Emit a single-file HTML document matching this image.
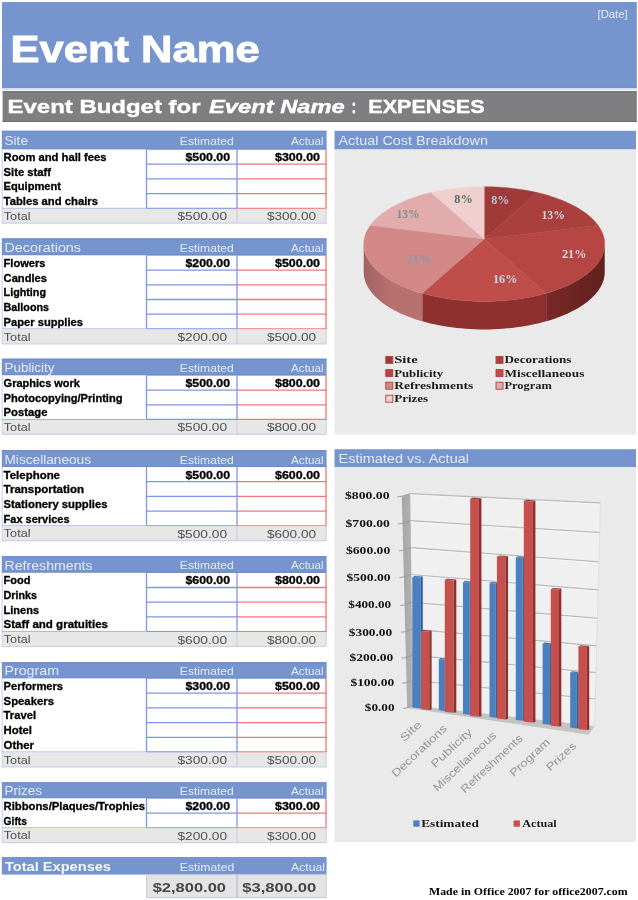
<!DOCTYPE html>
<html lang="en"><head><meta charset="utf-8"><title>Event Budget</title>
<style>html,body{margin:0;padding:0;background:#fff;}body{width:638px;height:900px;overflow:hidden;font-family:"Liberation Sans",sans-serif;}svg{display:block;filter:blur(0.45px);}text{white-space:pre;}</style>
</head><body>
<svg width="638" height="900" viewBox="0 0 638 900">
<rect x="0" y="0" width="638" height="900" fill="#FFFFFF"/>
<g id="title">
<rect x="2" y="2" width="634.8" height="86.2" fill="#7694CE"/>
<rect x="2" y="87.2" width="634.8" height="1" fill="#6E8EC9"/>
<rect x="2" y="88.6" width="634.8" height="1.8" fill="#DCE5F6"/>
<rect x="2.6" y="91.3" width="634.2" height="30.7" fill="#7F7E80"/>
<rect x="2.6" y="91.3" width="634.2" height="1" fill="#6C6B6D"/>
<rect x="2.6" y="121" width="634.2" height="1" fill="#6C6B6D"/>
<text x="10.6" y="62" textLength="249" lengthAdjust="spacingAndGlyphs" font-family='"Liberation Sans", sans-serif' font-size="37" font-weight="bold" font-style="normal" fill="#FFFFFF" stroke="#FFFFFF" stroke-width="0.9">Event Name</text>
<text x="597.5" y="18.2" textLength="30.2" lengthAdjust="spacingAndGlyphs" font-family='"Liberation Sans", sans-serif' font-size="10.5" font-weight="normal" font-style="normal" fill="#E6ECF8">[Date]</text>
<text x="7.5" y="113" textLength="193" lengthAdjust="spacingAndGlyphs" font-family='"Liberation Sans", sans-serif' font-size="19" font-weight="bold" font-style="normal" fill="#FFFFFF" stroke="#FFFFFF" stroke-width="0.4">Event Budget for</text>
<text x="209" y="113" textLength="135.7" lengthAdjust="spacingAndGlyphs" font-family='"Liberation Sans", sans-serif' font-size="19" font-weight="bold" font-style="italic" fill="#FFFFFF" stroke="#FFFFFF" stroke-width="0.4">Event Name</text>
<text x="351.6" y="113" textLength="4.8" lengthAdjust="spacingAndGlyphs" font-family='"Liberation Sans", sans-serif' font-size="19" font-weight="bold" font-style="normal" fill="#FFFFFF" stroke="#FFFFFF" stroke-width="0.4">:</text>
<text x="368.3" y="113" textLength="116.3" lengthAdjust="spacingAndGlyphs" font-family='"Liberation Sans", sans-serif' font-size="19" font-weight="bold" font-style="normal" fill="#FFFFFF" stroke="#FFFFFF" stroke-width="0.4">EXPENSES</text>
</g>
<g id="sec-site">
<rect x="1.8" y="130.8" width="324.8" height="18.7" fill="#7694CE"/>
<rect x="1.8" y="130.8" width="324.8" height="1" fill="#6C8BC9"/>
<rect x="1.8" y="148.5" width="324.8" height="1" fill="#6C8BC9"/>
<text x="4.5" y="145.3" textLength="23.5" lengthAdjust="spacingAndGlyphs" font-family='"Liberation Sans", sans-serif' font-size="12.5" font-weight="normal" font-style="normal" fill="#E4EBF8">Site</text>
<text x="179.8" y="145" textLength="54" lengthAdjust="spacingAndGlyphs" font-family='"Liberation Sans", sans-serif' font-size="10.5" font-weight="normal" font-style="normal" fill="#E4EBF8">Estimated</text>
<text x="291" y="145" textLength="32.5" lengthAdjust="spacingAndGlyphs" font-family='"Liberation Sans", sans-serif' font-size="10.5" font-weight="normal" font-style="normal" fill="#E4EBF8">Actual</text>
<rect x="1.8" y="149.5" width="144.7" height="58.8" fill="#FFFFFF"/>
<line x1="2.2" y1="149.5" x2="2.2" y2="208.3" stroke="#B9C7EA" stroke-width="0.9"/>
<text x="3.6" y="161" textLength="102.9" lengthAdjust="spacingAndGlyphs" font-family='"Liberation Sans", sans-serif' font-size="10.5" font-weight="bold" font-style="normal" fill="#000000" stroke="#000000" stroke-width="0.3">Room and hall fees</text>
<text x="185.5" y="161" textLength="44.5" lengthAdjust="spacingAndGlyphs" font-family='"Liberation Sans", sans-serif' font-size="10.5" font-weight="bold" font-style="normal" fill="#000000" stroke="#000000" stroke-width="0.3">$500.00</text>
<text x="275" y="161" textLength="45" lengthAdjust="spacingAndGlyphs" font-family='"Liberation Sans", sans-serif' font-size="10.5" font-weight="bold" font-style="normal" fill="#000000" stroke="#000000" stroke-width="0.3">$300.00</text>
<line x1="146.5" y1="164.2" x2="237" y2="164.2" stroke="#7B97E6" stroke-width="1.3"/>
<line x1="237" y1="164.2" x2="326.6" y2="164.2" stroke="#F07878" stroke-width="1.3"/>
<text x="3.6" y="175.7" textLength="47.4" lengthAdjust="spacingAndGlyphs" font-family='"Liberation Sans", sans-serif' font-size="10.5" font-weight="bold" font-style="normal" fill="#000000" stroke="#000000" stroke-width="0.3">Site staff</text>
<line x1="146.5" y1="178.9" x2="237" y2="178.9" stroke="#7B97E6" stroke-width="1.3"/>
<line x1="237" y1="178.9" x2="326.6" y2="178.9" stroke="#F07878" stroke-width="1.3"/>
<text x="3.6" y="190.4" textLength="57.4" lengthAdjust="spacingAndGlyphs" font-family='"Liberation Sans", sans-serif' font-size="10.5" font-weight="bold" font-style="normal" fill="#000000" stroke="#000000" stroke-width="0.3">Equipment</text>
<line x1="146.5" y1="193.6" x2="237" y2="193.6" stroke="#7B97E6" stroke-width="1.3"/>
<line x1="237" y1="193.6" x2="326.6" y2="193.6" stroke="#F07878" stroke-width="1.3"/>
<text x="3.6" y="205.1" textLength="94.4" lengthAdjust="spacingAndGlyphs" font-family='"Liberation Sans", sans-serif' font-size="10.5" font-weight="bold" font-style="normal" fill="#000000" stroke="#000000" stroke-width="0.3">Tables and chairs</text>
<line x1="146.5" y1="208.3" x2="237" y2="208.3" stroke="#7B97E6" stroke-width="1.3"/>
<line x1="237" y1="208.3" x2="326.6" y2="208.3" stroke="#F07878" stroke-width="1.3"/>
<line x1="146.5" y1="149.5" x2="146.5" y2="208.3" stroke="#7B97E6" stroke-width="1.3"/>
<line x1="237" y1="149.5" x2="237" y2="208.3" stroke="#7B97E6" stroke-width="1.3"/>
<line x1="326" y1="149.5" x2="326" y2="208.3" stroke="#F07878" stroke-width="1.3"/>
<line x1="1.8" y1="208.3" x2="146.5" y2="208.3" stroke="#9FB3E6" stroke-width="1"/>
<rect x="1.8" y="208.8" width="324.8" height="14.4" fill="#E7E7E7"/>
<line x1="1.8" y1="223.2" x2="326.6" y2="223.2" stroke="#C9D2EA" stroke-width="1.2"/>
<line x1="237" y1="208.8" x2="237" y2="223.2" stroke="#C3CBE0" stroke-width="1"/>
<line x1="2.2" y1="208.3" x2="2.2" y2="223.2" stroke="#C9D2EA" stroke-width="0.9"/>
<line x1="326.2" y1="208.8" x2="326.2" y2="223.2" stroke="#C9D2EA" stroke-width="0.9"/>
<text x="3.8" y="219.9" textLength="26.7" lengthAdjust="spacingAndGlyphs" font-family='"Liberation Sans", sans-serif' font-size="10.5" font-weight="normal" font-style="normal" fill="#505050">Total</text>
<text x="177.5" y="220.2" textLength="49.5" lengthAdjust="spacingAndGlyphs" font-family='"Liberation Sans", sans-serif' font-size="11.5" font-weight="normal" font-style="normal" fill="#505050">$500.00</text>
<text x="267" y="220.2" textLength="49" lengthAdjust="spacingAndGlyphs" font-family='"Liberation Sans", sans-serif' font-size="11.5" font-weight="normal" font-style="normal" fill="#505050">$300.00</text>
</g>
<g id="sec-decorations">
<rect x="1.8" y="238.4" width="324.8" height="17" fill="#7694CE"/>
<rect x="1.8" y="238.4" width="324.8" height="1" fill="#6C8BC9"/>
<rect x="1.8" y="254.4" width="324.8" height="1" fill="#6C8BC9"/>
<text x="4.5" y="252.2" textLength="76.5" lengthAdjust="spacingAndGlyphs" font-family='"Liberation Sans", sans-serif' font-size="12.5" font-weight="normal" font-style="normal" fill="#E4EBF8">Decorations</text>
<text x="179.8" y="251.9" textLength="54" lengthAdjust="spacingAndGlyphs" font-family='"Liberation Sans", sans-serif' font-size="10.5" font-weight="normal" font-style="normal" fill="#E4EBF8">Estimated</text>
<text x="291" y="251.9" textLength="32.5" lengthAdjust="spacingAndGlyphs" font-family='"Liberation Sans", sans-serif' font-size="10.5" font-weight="normal" font-style="normal" fill="#E4EBF8">Actual</text>
<rect x="1.8" y="255.4" width="144.7" height="73.5" fill="#FFFFFF"/>
<line x1="2.2" y1="255.4" x2="2.2" y2="328.9" stroke="#B9C7EA" stroke-width="0.9"/>
<text x="3.6" y="266.9" textLength="41.9" lengthAdjust="spacingAndGlyphs" font-family='"Liberation Sans", sans-serif' font-size="10.5" font-weight="bold" font-style="normal" fill="#000000" stroke="#000000" stroke-width="0.3">Flowers</text>
<text x="185.5" y="266.9" textLength="44.5" lengthAdjust="spacingAndGlyphs" font-family='"Liberation Sans", sans-serif' font-size="10.5" font-weight="bold" font-style="normal" fill="#000000" stroke="#000000" stroke-width="0.3">$200.00</text>
<text x="275" y="266.9" textLength="45" lengthAdjust="spacingAndGlyphs" font-family='"Liberation Sans", sans-serif' font-size="10.5" font-weight="bold" font-style="normal" fill="#000000" stroke="#000000" stroke-width="0.3">$500.00</text>
<line x1="146.5" y1="270.1" x2="237" y2="270.1" stroke="#7B97E6" stroke-width="1.3"/>
<line x1="237" y1="270.1" x2="326.6" y2="270.1" stroke="#F07878" stroke-width="1.3"/>
<text x="3.6" y="281.6" textLength="43.4" lengthAdjust="spacingAndGlyphs" font-family='"Liberation Sans", sans-serif' font-size="10.5" font-weight="bold" font-style="normal" fill="#000000" stroke="#000000" stroke-width="0.3">Candles</text>
<line x1="146.5" y1="284.8" x2="237" y2="284.8" stroke="#7B97E6" stroke-width="1.3"/>
<line x1="237" y1="284.8" x2="326.6" y2="284.8" stroke="#F07878" stroke-width="1.3"/>
<text x="3.6" y="296.3" textLength="42.4" lengthAdjust="spacingAndGlyphs" font-family='"Liberation Sans", sans-serif' font-size="10.5" font-weight="bold" font-style="normal" fill="#000000" stroke="#000000" stroke-width="0.3">Lighting</text>
<line x1="146.5" y1="299.5" x2="237" y2="299.5" stroke="#7B97E6" stroke-width="1.3"/>
<line x1="237" y1="299.5" x2="326.6" y2="299.5" stroke="#F07878" stroke-width="1.3"/>
<text x="3.6" y="311" textLength="45.4" lengthAdjust="spacingAndGlyphs" font-family='"Liberation Sans", sans-serif' font-size="10.5" font-weight="bold" font-style="normal" fill="#000000" stroke="#000000" stroke-width="0.3">Balloons</text>
<line x1="146.5" y1="314.2" x2="237" y2="314.2" stroke="#7B97E6" stroke-width="1.3"/>
<line x1="237" y1="314.2" x2="326.6" y2="314.2" stroke="#F07878" stroke-width="1.3"/>
<text x="3.6" y="325.7" textLength="79.4" lengthAdjust="spacingAndGlyphs" font-family='"Liberation Sans", sans-serif' font-size="10.5" font-weight="bold" font-style="normal" fill="#000000" stroke="#000000" stroke-width="0.3">Paper supplies</text>
<line x1="146.5" y1="328.9" x2="237" y2="328.9" stroke="#7B97E6" stroke-width="1.3"/>
<line x1="237" y1="328.9" x2="326.6" y2="328.9" stroke="#F07878" stroke-width="1.3"/>
<line x1="146.5" y1="255.4" x2="146.5" y2="328.9" stroke="#7B97E6" stroke-width="1.3"/>
<line x1="237" y1="255.4" x2="237" y2="328.9" stroke="#7B97E6" stroke-width="1.3"/>
<line x1="326" y1="255.4" x2="326" y2="328.9" stroke="#F07878" stroke-width="1.3"/>
<line x1="1.8" y1="328.9" x2="146.5" y2="328.9" stroke="#9FB3E6" stroke-width="1"/>
<rect x="1.8" y="329.4" width="324.8" height="14.4" fill="#E7E7E7"/>
<line x1="1.8" y1="343.8" x2="326.6" y2="343.8" stroke="#C9D2EA" stroke-width="1.2"/>
<line x1="237" y1="329.4" x2="237" y2="343.8" stroke="#C3CBE0" stroke-width="1"/>
<line x1="2.2" y1="328.9" x2="2.2" y2="343.8" stroke="#C9D2EA" stroke-width="0.9"/>
<line x1="326.2" y1="329.4" x2="326.2" y2="343.8" stroke="#C9D2EA" stroke-width="0.9"/>
<text x="3.8" y="340.5" textLength="26.7" lengthAdjust="spacingAndGlyphs" font-family='"Liberation Sans", sans-serif' font-size="10.5" font-weight="normal" font-style="normal" fill="#505050">Total</text>
<text x="177.5" y="340.8" textLength="49.5" lengthAdjust="spacingAndGlyphs" font-family='"Liberation Sans", sans-serif' font-size="11.5" font-weight="normal" font-style="normal" fill="#505050">$200.00</text>
<text x="267" y="340.8" textLength="49" lengthAdjust="spacingAndGlyphs" font-family='"Liberation Sans", sans-serif' font-size="11.5" font-weight="normal" font-style="normal" fill="#505050">$500.00</text>
</g>
<g id="sec-publicity">
<rect x="1.8" y="358.7" width="324.8" height="16.7" fill="#7694CE"/>
<rect x="1.8" y="358.7" width="324.8" height="1" fill="#6C8BC9"/>
<rect x="1.8" y="374.4" width="324.8" height="1" fill="#6C8BC9"/>
<text x="4.5" y="372.2" textLength="50" lengthAdjust="spacingAndGlyphs" font-family='"Liberation Sans", sans-serif' font-size="12.5" font-weight="normal" font-style="normal" fill="#E4EBF8">Publicity</text>
<text x="179.8" y="371.9" textLength="54" lengthAdjust="spacingAndGlyphs" font-family='"Liberation Sans", sans-serif' font-size="10.5" font-weight="normal" font-style="normal" fill="#E4EBF8">Estimated</text>
<text x="291" y="371.9" textLength="32.5" lengthAdjust="spacingAndGlyphs" font-family='"Liberation Sans", sans-serif' font-size="10.5" font-weight="normal" font-style="normal" fill="#E4EBF8">Actual</text>
<rect x="1.8" y="375.4" width="144.7" height="44.1" fill="#FFFFFF"/>
<line x1="2.2" y1="375.4" x2="2.2" y2="419.5" stroke="#B9C7EA" stroke-width="0.9"/>
<text x="3.6" y="386.9" textLength="76.4" lengthAdjust="spacingAndGlyphs" font-family='"Liberation Sans", sans-serif' font-size="10.5" font-weight="bold" font-style="normal" fill="#000000" stroke="#000000" stroke-width="0.3">Graphics work</text>
<text x="185.5" y="386.9" textLength="44.5" lengthAdjust="spacingAndGlyphs" font-family='"Liberation Sans", sans-serif' font-size="10.5" font-weight="bold" font-style="normal" fill="#000000" stroke="#000000" stroke-width="0.3">$500.00</text>
<text x="275" y="386.9" textLength="45" lengthAdjust="spacingAndGlyphs" font-family='"Liberation Sans", sans-serif' font-size="10.5" font-weight="bold" font-style="normal" fill="#000000" stroke="#000000" stroke-width="0.3">$800.00</text>
<line x1="146.5" y1="390.1" x2="237" y2="390.1" stroke="#7B97E6" stroke-width="1.3"/>
<line x1="237" y1="390.1" x2="326.6" y2="390.1" stroke="#F07878" stroke-width="1.3"/>
<text x="3.6" y="401.6" textLength="118.9" lengthAdjust="spacingAndGlyphs" font-family='"Liberation Sans", sans-serif' font-size="10.5" font-weight="bold" font-style="normal" fill="#000000" stroke="#000000" stroke-width="0.3">Photocopying/Printing</text>
<line x1="146.5" y1="404.8" x2="237" y2="404.8" stroke="#7B97E6" stroke-width="1.3"/>
<line x1="237" y1="404.8" x2="326.6" y2="404.8" stroke="#F07878" stroke-width="1.3"/>
<text x="3.6" y="416.3" textLength="43.9" lengthAdjust="spacingAndGlyphs" font-family='"Liberation Sans", sans-serif' font-size="10.5" font-weight="bold" font-style="normal" fill="#000000" stroke="#000000" stroke-width="0.3">Postage</text>
<line x1="146.5" y1="419.5" x2="237" y2="419.5" stroke="#7B97E6" stroke-width="1.3"/>
<line x1="237" y1="419.5" x2="326.6" y2="419.5" stroke="#F07878" stroke-width="1.3"/>
<line x1="146.5" y1="375.4" x2="146.5" y2="419.5" stroke="#7B97E6" stroke-width="1.3"/>
<line x1="237" y1="375.4" x2="237" y2="419.5" stroke="#7B97E6" stroke-width="1.3"/>
<line x1="326" y1="375.4" x2="326" y2="419.5" stroke="#F07878" stroke-width="1.3"/>
<line x1="1.8" y1="419.5" x2="146.5" y2="419.5" stroke="#9FB3E6" stroke-width="1"/>
<rect x="1.8" y="420" width="324.8" height="14.4" fill="#E7E7E7"/>
<line x1="1.8" y1="434.4" x2="326.6" y2="434.4" stroke="#C9D2EA" stroke-width="1.2"/>
<line x1="237" y1="420" x2="237" y2="434.4" stroke="#C3CBE0" stroke-width="1"/>
<line x1="2.2" y1="419.5" x2="2.2" y2="434.4" stroke="#C9D2EA" stroke-width="0.9"/>
<line x1="326.2" y1="420" x2="326.2" y2="434.4" stroke="#C9D2EA" stroke-width="0.9"/>
<text x="3.8" y="431.1" textLength="26.7" lengthAdjust="spacingAndGlyphs" font-family='"Liberation Sans", sans-serif' font-size="10.5" font-weight="normal" font-style="normal" fill="#505050">Total</text>
<text x="177.5" y="431.4" textLength="49.5" lengthAdjust="spacingAndGlyphs" font-family='"Liberation Sans", sans-serif' font-size="11.5" font-weight="normal" font-style="normal" fill="#505050">$500.00</text>
<text x="267" y="431.4" textLength="49" lengthAdjust="spacingAndGlyphs" font-family='"Liberation Sans", sans-serif' font-size="11.5" font-weight="normal" font-style="normal" fill="#505050">$800.00</text>
</g>
<g id="sec-miscellaneous">
<rect x="1.8" y="450.2" width="324.8" height="16.8" fill="#7694CE"/>
<rect x="1.8" y="450.2" width="324.8" height="1" fill="#6C8BC9"/>
<rect x="1.8" y="466" width="324.8" height="1" fill="#6C8BC9"/>
<text x="4.5" y="463.8" textLength="86.5" lengthAdjust="spacingAndGlyphs" font-family='"Liberation Sans", sans-serif' font-size="12.5" font-weight="normal" font-style="normal" fill="#E4EBF8">Miscellaneous</text>
<text x="179.8" y="463.5" textLength="54" lengthAdjust="spacingAndGlyphs" font-family='"Liberation Sans", sans-serif' font-size="10.5" font-weight="normal" font-style="normal" fill="#E4EBF8">Estimated</text>
<text x="291" y="463.5" textLength="32.5" lengthAdjust="spacingAndGlyphs" font-family='"Liberation Sans", sans-serif' font-size="10.5" font-weight="normal" font-style="normal" fill="#E4EBF8">Actual</text>
<rect x="1.8" y="467" width="144.7" height="58.8" fill="#FFFFFF"/>
<line x1="2.2" y1="467" x2="2.2" y2="525.8" stroke="#B9C7EA" stroke-width="0.9"/>
<text x="3.6" y="478.5" textLength="56.4" lengthAdjust="spacingAndGlyphs" font-family='"Liberation Sans", sans-serif' font-size="10.5" font-weight="bold" font-style="normal" fill="#000000" stroke="#000000" stroke-width="0.3">Telephone</text>
<text x="185.5" y="478.5" textLength="44.5" lengthAdjust="spacingAndGlyphs" font-family='"Liberation Sans", sans-serif' font-size="10.5" font-weight="bold" font-style="normal" fill="#000000" stroke="#000000" stroke-width="0.3">$500.00</text>
<text x="275" y="478.5" textLength="45" lengthAdjust="spacingAndGlyphs" font-family='"Liberation Sans", sans-serif' font-size="10.5" font-weight="bold" font-style="normal" fill="#000000" stroke="#000000" stroke-width="0.3">$600.00</text>
<line x1="146.5" y1="481.7" x2="237" y2="481.7" stroke="#7B97E6" stroke-width="1.3"/>
<line x1="237" y1="481.7" x2="326.6" y2="481.7" stroke="#F07878" stroke-width="1.3"/>
<text x="3.6" y="493.2" textLength="80.4" lengthAdjust="spacingAndGlyphs" font-family='"Liberation Sans", sans-serif' font-size="10.5" font-weight="bold" font-style="normal" fill="#000000" stroke="#000000" stroke-width="0.3">Transportation</text>
<line x1="146.5" y1="496.4" x2="237" y2="496.4" stroke="#7B97E6" stroke-width="1.3"/>
<line x1="237" y1="496.4" x2="326.6" y2="496.4" stroke="#F07878" stroke-width="1.3"/>
<text x="3.6" y="507.9" textLength="103.9" lengthAdjust="spacingAndGlyphs" font-family='"Liberation Sans", sans-serif' font-size="10.5" font-weight="bold" font-style="normal" fill="#000000" stroke="#000000" stroke-width="0.3">Stationery supplies</text>
<line x1="146.5" y1="511.1" x2="237" y2="511.1" stroke="#7B97E6" stroke-width="1.3"/>
<line x1="237" y1="511.1" x2="326.6" y2="511.1" stroke="#F07878" stroke-width="1.3"/>
<text x="3.6" y="522.6" textLength="65.9" lengthAdjust="spacingAndGlyphs" font-family='"Liberation Sans", sans-serif' font-size="10.5" font-weight="bold" font-style="normal" fill="#000000" stroke="#000000" stroke-width="0.3">Fax services</text>
<line x1="146.5" y1="525.8" x2="237" y2="525.8" stroke="#7B97E6" stroke-width="1.3"/>
<line x1="237" y1="525.8" x2="326.6" y2="525.8" stroke="#F07878" stroke-width="1.3"/>
<line x1="146.5" y1="467" x2="146.5" y2="525.8" stroke="#7B97E6" stroke-width="1.3"/>
<line x1="237" y1="467" x2="237" y2="525.8" stroke="#7B97E6" stroke-width="1.3"/>
<line x1="326" y1="467" x2="326" y2="525.8" stroke="#F07878" stroke-width="1.3"/>
<line x1="1.8" y1="525.8" x2="146.5" y2="525.8" stroke="#9FB3E6" stroke-width="1"/>
<rect x="1.8" y="526.3" width="324.8" height="14.4" fill="#E7E7E7"/>
<line x1="1.8" y1="540.7" x2="326.6" y2="540.7" stroke="#C9D2EA" stroke-width="1.2"/>
<line x1="237" y1="526.3" x2="237" y2="540.7" stroke="#C3CBE0" stroke-width="1"/>
<line x1="2.2" y1="525.8" x2="2.2" y2="540.7" stroke="#C9D2EA" stroke-width="0.9"/>
<line x1="326.2" y1="526.3" x2="326.2" y2="540.7" stroke="#C9D2EA" stroke-width="0.9"/>
<text x="3.8" y="537.4" textLength="26.7" lengthAdjust="spacingAndGlyphs" font-family='"Liberation Sans", sans-serif' font-size="10.5" font-weight="normal" font-style="normal" fill="#505050">Total</text>
<text x="177.5" y="537.7" textLength="49.5" lengthAdjust="spacingAndGlyphs" font-family='"Liberation Sans", sans-serif' font-size="11.5" font-weight="normal" font-style="normal" fill="#505050">$500.00</text>
<text x="267" y="537.7" textLength="49" lengthAdjust="spacingAndGlyphs" font-family='"Liberation Sans", sans-serif' font-size="11.5" font-weight="normal" font-style="normal" fill="#505050">$600.00</text>
</g>
<g id="sec-refreshments">
<rect x="1.8" y="556.2" width="324.8" height="16.6" fill="#7694CE"/>
<rect x="1.8" y="556.2" width="324.8" height="1" fill="#6C8BC9"/>
<rect x="1.8" y="571.8" width="324.8" height="1" fill="#6C8BC9"/>
<text x="4.5" y="569.6" textLength="88" lengthAdjust="spacingAndGlyphs" font-family='"Liberation Sans", sans-serif' font-size="12.5" font-weight="normal" font-style="normal" fill="#E4EBF8">Refreshments</text>
<text x="179.8" y="569.3" textLength="54" lengthAdjust="spacingAndGlyphs" font-family='"Liberation Sans", sans-serif' font-size="10.5" font-weight="normal" font-style="normal" fill="#E4EBF8">Estimated</text>
<text x="291" y="569.3" textLength="32.5" lengthAdjust="spacingAndGlyphs" font-family='"Liberation Sans", sans-serif' font-size="10.5" font-weight="normal" font-style="normal" fill="#E4EBF8">Actual</text>
<rect x="1.8" y="572.8" width="144.7" height="58.8" fill="#FFFFFF"/>
<line x1="2.2" y1="572.8" x2="2.2" y2="631.6" stroke="#B9C7EA" stroke-width="0.9"/>
<text x="3.6" y="584.3" textLength="26.9" lengthAdjust="spacingAndGlyphs" font-family='"Liberation Sans", sans-serif' font-size="10.5" font-weight="bold" font-style="normal" fill="#000000" stroke="#000000" stroke-width="0.3">Food</text>
<text x="185.5" y="584.3" textLength="44.5" lengthAdjust="spacingAndGlyphs" font-family='"Liberation Sans", sans-serif' font-size="10.5" font-weight="bold" font-style="normal" fill="#000000" stroke="#000000" stroke-width="0.3">$600.00</text>
<text x="275" y="584.3" textLength="45" lengthAdjust="spacingAndGlyphs" font-family='"Liberation Sans", sans-serif' font-size="10.5" font-weight="bold" font-style="normal" fill="#000000" stroke="#000000" stroke-width="0.3">$800.00</text>
<line x1="146.5" y1="587.5" x2="237" y2="587.5" stroke="#7B97E6" stroke-width="1.3"/>
<line x1="237" y1="587.5" x2="326.6" y2="587.5" stroke="#F07878" stroke-width="1.3"/>
<text x="3.6" y="599" textLength="33.4" lengthAdjust="spacingAndGlyphs" font-family='"Liberation Sans", sans-serif' font-size="10.5" font-weight="bold" font-style="normal" fill="#000000" stroke="#000000" stroke-width="0.3">Drinks</text>
<line x1="146.5" y1="602.2" x2="237" y2="602.2" stroke="#7B97E6" stroke-width="1.3"/>
<line x1="237" y1="602.2" x2="326.6" y2="602.2" stroke="#F07878" stroke-width="1.3"/>
<text x="3.6" y="613.7" textLength="35.4" lengthAdjust="spacingAndGlyphs" font-family='"Liberation Sans", sans-serif' font-size="10.5" font-weight="bold" font-style="normal" fill="#000000" stroke="#000000" stroke-width="0.3">Linens</text>
<line x1="146.5" y1="616.9" x2="237" y2="616.9" stroke="#7B97E6" stroke-width="1.3"/>
<line x1="237" y1="616.9" x2="326.6" y2="616.9" stroke="#F07878" stroke-width="1.3"/>
<text x="3.6" y="628.4" textLength="104.4" lengthAdjust="spacingAndGlyphs" font-family='"Liberation Sans", sans-serif' font-size="10.5" font-weight="bold" font-style="normal" fill="#000000" stroke="#000000" stroke-width="0.3">Staff and gratuities</text>
<line x1="146.5" y1="631.6" x2="237" y2="631.6" stroke="#7B97E6" stroke-width="1.3"/>
<line x1="237" y1="631.6" x2="326.6" y2="631.6" stroke="#F07878" stroke-width="1.3"/>
<line x1="146.5" y1="572.8" x2="146.5" y2="631.6" stroke="#7B97E6" stroke-width="1.3"/>
<line x1="237" y1="572.8" x2="237" y2="631.6" stroke="#7B97E6" stroke-width="1.3"/>
<line x1="326" y1="572.8" x2="326" y2="631.6" stroke="#F07878" stroke-width="1.3"/>
<line x1="1.8" y1="631.6" x2="146.5" y2="631.6" stroke="#9FB3E6" stroke-width="1"/>
<rect x="1.8" y="632.1" width="324.8" height="14.4" fill="#E7E7E7"/>
<line x1="1.8" y1="646.5" x2="326.6" y2="646.5" stroke="#C9D2EA" stroke-width="1.2"/>
<line x1="237" y1="632.1" x2="237" y2="646.5" stroke="#C3CBE0" stroke-width="1"/>
<line x1="2.2" y1="631.6" x2="2.2" y2="646.5" stroke="#C9D2EA" stroke-width="0.9"/>
<line x1="326.2" y1="632.1" x2="326.2" y2="646.5" stroke="#C9D2EA" stroke-width="0.9"/>
<text x="3.8" y="643.2" textLength="26.7" lengthAdjust="spacingAndGlyphs" font-family='"Liberation Sans", sans-serif' font-size="10.5" font-weight="normal" font-style="normal" fill="#505050">Total</text>
<text x="177.5" y="643.5" textLength="49.5" lengthAdjust="spacingAndGlyphs" font-family='"Liberation Sans", sans-serif' font-size="11.5" font-weight="normal" font-style="normal" fill="#505050">$600.00</text>
<text x="267" y="643.5" textLength="49" lengthAdjust="spacingAndGlyphs" font-family='"Liberation Sans", sans-serif' font-size="11.5" font-weight="normal" font-style="normal" fill="#505050">$800.00</text>
</g>
<g id="sec-program">
<rect x="1.8" y="662.2" width="324.8" height="16.3" fill="#7694CE"/>
<rect x="1.8" y="662.2" width="324.8" height="1" fill="#6C8BC9"/>
<rect x="1.8" y="677.5" width="324.8" height="1" fill="#6C8BC9"/>
<text x="4.5" y="675.3" textLength="54.5" lengthAdjust="spacingAndGlyphs" font-family='"Liberation Sans", sans-serif' font-size="12.5" font-weight="normal" font-style="normal" fill="#E4EBF8">Program</text>
<text x="179.8" y="675" textLength="54" lengthAdjust="spacingAndGlyphs" font-family='"Liberation Sans", sans-serif' font-size="10.5" font-weight="normal" font-style="normal" fill="#E4EBF8">Estimated</text>
<text x="291" y="675" textLength="32.5" lengthAdjust="spacingAndGlyphs" font-family='"Liberation Sans", sans-serif' font-size="10.5" font-weight="normal" font-style="normal" fill="#E4EBF8">Actual</text>
<rect x="1.8" y="678.5" width="144.7" height="73.5" fill="#FFFFFF"/>
<line x1="2.2" y1="678.5" x2="2.2" y2="752" stroke="#B9C7EA" stroke-width="0.9"/>
<text x="3.6" y="690" textLength="59.4" lengthAdjust="spacingAndGlyphs" font-family='"Liberation Sans", sans-serif' font-size="10.5" font-weight="bold" font-style="normal" fill="#000000" stroke="#000000" stroke-width="0.3">Performers</text>
<text x="185.5" y="690" textLength="44.5" lengthAdjust="spacingAndGlyphs" font-family='"Liberation Sans", sans-serif' font-size="10.5" font-weight="bold" font-style="normal" fill="#000000" stroke="#000000" stroke-width="0.3">$300.00</text>
<text x="275" y="690" textLength="45" lengthAdjust="spacingAndGlyphs" font-family='"Liberation Sans", sans-serif' font-size="10.5" font-weight="bold" font-style="normal" fill="#000000" stroke="#000000" stroke-width="0.3">$500.00</text>
<line x1="146.5" y1="693.2" x2="237" y2="693.2" stroke="#7B97E6" stroke-width="1.3"/>
<line x1="237" y1="693.2" x2="326.6" y2="693.2" stroke="#F07878" stroke-width="1.3"/>
<text x="3.6" y="704.7" textLength="50.4" lengthAdjust="spacingAndGlyphs" font-family='"Liberation Sans", sans-serif' font-size="10.5" font-weight="bold" font-style="normal" fill="#000000" stroke="#000000" stroke-width="0.3">Speakers</text>
<line x1="146.5" y1="707.9" x2="237" y2="707.9" stroke="#7B97E6" stroke-width="1.3"/>
<line x1="237" y1="707.9" x2="326.6" y2="707.9" stroke="#F07878" stroke-width="1.3"/>
<text x="3.6" y="719.4" textLength="32.4" lengthAdjust="spacingAndGlyphs" font-family='"Liberation Sans", sans-serif' font-size="10.5" font-weight="bold" font-style="normal" fill="#000000" stroke="#000000" stroke-width="0.3">Travel</text>
<line x1="146.5" y1="722.6" x2="237" y2="722.6" stroke="#7B97E6" stroke-width="1.3"/>
<line x1="237" y1="722.6" x2="326.6" y2="722.6" stroke="#F07878" stroke-width="1.3"/>
<text x="3.6" y="734.1" textLength="28.4" lengthAdjust="spacingAndGlyphs" font-family='"Liberation Sans", sans-serif' font-size="10.5" font-weight="bold" font-style="normal" fill="#000000" stroke="#000000" stroke-width="0.3">Hotel</text>
<line x1="146.5" y1="737.3" x2="237" y2="737.3" stroke="#7B97E6" stroke-width="1.3"/>
<line x1="237" y1="737.3" x2="326.6" y2="737.3" stroke="#F07878" stroke-width="1.3"/>
<text x="3.6" y="748.8" textLength="30.4" lengthAdjust="spacingAndGlyphs" font-family='"Liberation Sans", sans-serif' font-size="10.5" font-weight="bold" font-style="normal" fill="#000000" stroke="#000000" stroke-width="0.3">Other</text>
<line x1="146.5" y1="752" x2="237" y2="752" stroke="#7B97E6" stroke-width="1.3"/>
<line x1="237" y1="752" x2="326.6" y2="752" stroke="#F07878" stroke-width="1.3"/>
<line x1="146.5" y1="678.5" x2="146.5" y2="752" stroke="#7B97E6" stroke-width="1.3"/>
<line x1="237" y1="678.5" x2="237" y2="752" stroke="#7B97E6" stroke-width="1.3"/>
<line x1="326" y1="678.5" x2="326" y2="752" stroke="#F07878" stroke-width="1.3"/>
<line x1="1.8" y1="752" x2="146.5" y2="752" stroke="#9FB3E6" stroke-width="1"/>
<rect x="1.8" y="752.5" width="324.8" height="14.4" fill="#E7E7E7"/>
<line x1="1.8" y1="766.9" x2="326.6" y2="766.9" stroke="#C9D2EA" stroke-width="1.2"/>
<line x1="237" y1="752.5" x2="237" y2="766.9" stroke="#C3CBE0" stroke-width="1"/>
<line x1="2.2" y1="752" x2="2.2" y2="766.9" stroke="#C9D2EA" stroke-width="0.9"/>
<line x1="326.2" y1="752.5" x2="326.2" y2="766.9" stroke="#C9D2EA" stroke-width="0.9"/>
<text x="3.8" y="763.6" textLength="26.7" lengthAdjust="spacingAndGlyphs" font-family='"Liberation Sans", sans-serif' font-size="10.5" font-weight="normal" font-style="normal" fill="#505050">Total</text>
<text x="177.5" y="763.9" textLength="49.5" lengthAdjust="spacingAndGlyphs" font-family='"Liberation Sans", sans-serif' font-size="11.5" font-weight="normal" font-style="normal" fill="#505050">$300.00</text>
<text x="267" y="763.9" textLength="49" lengthAdjust="spacingAndGlyphs" font-family='"Liberation Sans", sans-serif' font-size="11.5" font-weight="normal" font-style="normal" fill="#505050">$500.00</text>
</g>
<g id="sec-prizes">
<rect x="1.8" y="782.3" width="324.8" height="16.1" fill="#7694CE"/>
<rect x="1.8" y="782.3" width="324.8" height="1" fill="#6C8BC9"/>
<rect x="1.8" y="797.4" width="324.8" height="1" fill="#6C8BC9"/>
<text x="4.5" y="795.2" textLength="37.5" lengthAdjust="spacingAndGlyphs" font-family='"Liberation Sans", sans-serif' font-size="12.5" font-weight="normal" font-style="normal" fill="#E4EBF8">Prizes</text>
<text x="179.8" y="794.9" textLength="54" lengthAdjust="spacingAndGlyphs" font-family='"Liberation Sans", sans-serif' font-size="10.5" font-weight="normal" font-style="normal" fill="#E4EBF8">Estimated</text>
<text x="291" y="794.9" textLength="32.5" lengthAdjust="spacingAndGlyphs" font-family='"Liberation Sans", sans-serif' font-size="10.5" font-weight="normal" font-style="normal" fill="#E4EBF8">Actual</text>
<rect x="1.8" y="798.4" width="144.7" height="29.4" fill="#FFFFFF"/>
<line x1="2.2" y1="798.4" x2="2.2" y2="827.8" stroke="#B9C7EA" stroke-width="0.9"/>
<text x="3.6" y="809.9" textLength="141.4" lengthAdjust="spacingAndGlyphs" font-family='"Liberation Sans", sans-serif' font-size="10.5" font-weight="bold" font-style="normal" fill="#000000" stroke="#000000" stroke-width="0.3">Ribbons/Plaques/Trophies</text>
<text x="185.5" y="809.9" textLength="44.5" lengthAdjust="spacingAndGlyphs" font-family='"Liberation Sans", sans-serif' font-size="10.5" font-weight="bold" font-style="normal" fill="#000000" stroke="#000000" stroke-width="0.3">$200.00</text>
<text x="275" y="809.9" textLength="45" lengthAdjust="spacingAndGlyphs" font-family='"Liberation Sans", sans-serif' font-size="10.5" font-weight="bold" font-style="normal" fill="#000000" stroke="#000000" stroke-width="0.3">$300.00</text>
<line x1="146.5" y1="813.1" x2="237" y2="813.1" stroke="#7B97E6" stroke-width="1.3"/>
<line x1="237" y1="813.1" x2="326.6" y2="813.1" stroke="#F07878" stroke-width="1.3"/>
<text x="3.6" y="824.6" textLength="23.4" lengthAdjust="spacingAndGlyphs" font-family='"Liberation Sans", sans-serif' font-size="10.5" font-weight="bold" font-style="normal" fill="#000000" stroke="#000000" stroke-width="0.3">Gifts</text>
<line x1="146.5" y1="827.8" x2="237" y2="827.8" stroke="#7B97E6" stroke-width="1.3"/>
<line x1="237" y1="827.8" x2="326.6" y2="827.8" stroke="#F07878" stroke-width="1.3"/>
<line x1="146.5" y1="798.4" x2="146.5" y2="827.8" stroke="#7B97E6" stroke-width="1.3"/>
<line x1="237" y1="798.4" x2="237" y2="827.8" stroke="#7B97E6" stroke-width="1.3"/>
<line x1="326" y1="798.4" x2="326" y2="827.8" stroke="#F07878" stroke-width="1.3"/>
<line x1="1.8" y1="827.8" x2="146.5" y2="827.8" stroke="#9FB3E6" stroke-width="1"/>
<rect x="1.8" y="828.3" width="324.8" height="14.4" fill="#E7E7E7"/>
<line x1="1.8" y1="842.7" x2="326.6" y2="842.7" stroke="#C9D2EA" stroke-width="1.2"/>
<line x1="237" y1="828.3" x2="237" y2="842.7" stroke="#C3CBE0" stroke-width="1"/>
<line x1="2.2" y1="827.8" x2="2.2" y2="842.7" stroke="#C9D2EA" stroke-width="0.9"/>
<line x1="326.2" y1="828.3" x2="326.2" y2="842.7" stroke="#C9D2EA" stroke-width="0.9"/>
<text x="3.8" y="839.4" textLength="26.7" lengthAdjust="spacingAndGlyphs" font-family='"Liberation Sans", sans-serif' font-size="10.5" font-weight="normal" font-style="normal" fill="#505050">Total</text>
<text x="177.5" y="839.7" textLength="49.5" lengthAdjust="spacingAndGlyphs" font-family='"Liberation Sans", sans-serif' font-size="11.5" font-weight="normal" font-style="normal" fill="#505050">$200.00</text>
<text x="267" y="839.7" textLength="49" lengthAdjust="spacingAndGlyphs" font-family='"Liberation Sans", sans-serif' font-size="11.5" font-weight="normal" font-style="normal" fill="#505050">$300.00</text>
</g>
<g id="total-expenses">
<rect x="1.8" y="857" width="324.8" height="17.6" fill="#7694CE"/>
<text x="5" y="871.4" textLength="106" lengthAdjust="spacingAndGlyphs" font-family='"Liberation Sans", sans-serif' font-size="12.5" font-weight="bold" font-style="normal" fill="#F4F7FD">Total Expenses</text>
<text x="179.8" y="870.6" textLength="54.5" lengthAdjust="spacingAndGlyphs" font-family='"Liberation Sans", sans-serif' font-size="10.5" font-weight="normal" font-style="normal" fill="#E4EBF8">Estimated</text>
<text x="291" y="870.6" textLength="34" lengthAdjust="spacingAndGlyphs" font-family='"Liberation Sans", sans-serif' font-size="10.5" font-weight="normal" font-style="normal" fill="#E4EBF8">Actual</text>
<rect x="146.6" y="874.6" width="90" height="23" fill="#E4E4E4" stroke="#C4C8D2" stroke-width="1"/>
<rect x="237.6" y="874.6" width="88.6" height="23" fill="#E4E4E4" stroke="#C4C8D2" stroke-width="1"/>
<text x="152.7" y="892" textLength="73.3" lengthAdjust="spacingAndGlyphs" font-family='"Liberation Sans", sans-serif' font-size="13.5" font-weight="bold" font-style="normal" fill="#454545">$2,800.00</text>
<text x="242.2" y="892" textLength="74.1" lengthAdjust="spacingAndGlyphs" font-family='"Liberation Sans", sans-serif' font-size="13.5" font-weight="bold" font-style="normal" fill="#454545">$3,800.00</text>
</g>
<g id="pie-panel">
<rect x="334.5" y="130.8" width="301.5" height="18.7" fill="#7694CE"/>
<rect x="334.5" y="149.5" width="301.5" height="285" fill="#EAEAEA"/>
<text x="338.5" y="145.3" textLength="149.5" lengthAdjust="spacingAndGlyphs" font-family='"Liberation Sans", sans-serif' font-size="12.5" font-weight="normal" font-style="normal" fill="#E4EBF8">Actual Cost Breakdown</text>
<polygon points="604.68,244.09 604.6,246.12 604.37,248.16 603.99,250.19 603.46,252.23 602.77,254.26 601.93,256.28 600.93,258.29 599.77,260.29 598.46,262.28 596.99,264.24 595.37,266.19 593.6,268.11 591.67,270.01 589.6,271.87 587.37,273.71 585,275.5 582.48,277.26 579.82,278.98 577.02,280.65 574.09,282.28 571.02,283.86 567.82,285.38 564.49,286.85 561.05,288.26 557.49,289.61 553.81,290.9 550.03,292.13 546.15,293.28 546.15,321.28 550.03,320.13 553.81,318.9 557.49,317.61 561.05,316.26 564.49,314.85 567.82,313.38 571.02,311.86 574.09,310.28 577.02,308.65 579.82,306.98 582.48,305.26 585,303.5 587.37,301.71 589.6,299.87 591.67,298.01 593.6,296.11 595.37,294.19 596.99,292.24 598.46,290.28 599.77,288.29 600.93,286.29 601.93,284.28 602.77,282.26 603.46,280.23 603.99,278.19 604.37,276.16 604.6,274.12 604.68,272.09" fill="#7C2A28"/>
<polygon points="546.15,293.28 542.15,294.37 538.05,295.4 533.87,296.34 529.62,297.21 525.29,298.01 520.89,298.72 516.43,299.35 511.93,299.91 507.37,300.37 502.78,300.76 498.16,301.06 493.52,301.27 488.86,301.4 484.2,301.45 479.54,301.4 474.88,301.27 470.24,301.06 465.62,300.76 461.03,300.37 456.47,299.91 451.97,299.35 447.51,298.72 443.11,298.01 438.78,297.21 434.53,296.34 430.35,295.4 426.25,294.37 422.25,293.28 422.25,321.28 426.25,322.37 430.35,323.4 434.53,324.34 438.78,325.21 443.11,326.01 447.51,326.72 451.97,327.35 456.47,327.91 461.03,328.37 465.62,328.76 470.24,329.06 474.88,329.27 479.54,329.4 484.2,329.45 488.86,329.4 493.52,329.27 498.16,329.06 502.78,328.76 507.37,328.37 511.93,327.91 516.43,327.35 520.89,326.72 525.29,326.01 529.62,325.21 533.87,324.34 538.05,323.4 542.15,322.37 546.15,321.28" fill="#8E302E"/>
<polygon points="422.25,293.28 418.37,292.13 414.59,290.9 410.91,289.61 407.35,288.26 403.91,286.85 400.58,285.38 397.38,283.86 394.31,282.28 391.38,280.65 388.58,278.98 385.92,277.26 383.4,275.5 381.03,273.71 378.8,271.87 376.73,270.01 374.8,268.11 373.03,266.19 371.41,264.24 369.94,262.28 368.63,260.29 367.47,258.29 366.47,256.28 365.63,254.26 364.94,252.23 364.41,250.19 364.03,248.16 363.8,246.12 363.72,244.09 363.72,272.09 363.8,274.12 364.03,276.16 364.41,278.19 364.94,280.23 365.63,282.26 366.47,284.28 367.47,286.29 368.63,288.29 369.94,290.28 371.41,292.24 373.03,294.19 374.8,296.11 376.73,298.01 378.8,299.87 381.03,301.71 383.4,303.5 385.92,305.26 388.58,306.98 391.38,308.65 394.31,310.28 397.38,311.86 400.58,313.38 403.91,314.85 407.35,316.26 410.91,317.61 414.59,318.9 418.37,320.13 422.25,321.28" fill="#B7716F"/>
<defs><linearGradient id="sideg" x1="0" y1="0" x2="1" y2="0"><stop offset="0" stop-color="#000" stop-opacity="0.12"/><stop offset="0.12" stop-color="#000" stop-opacity="0"/><stop offset="0.72" stop-color="#000" stop-opacity="0"/><stop offset="1" stop-color="#000" stop-opacity="0.22"/></linearGradient></defs>
<polygon points="604.68,244.09 604.6,246.13 604.37,248.17 603.99,250.2 603.45,252.24 602.76,254.28 601.91,256.3 600.91,258.32 599.75,260.33 598.43,262.31 596.96,264.29 595.33,266.24 593.55,268.16 591.62,270.06 589.53,271.93 587.3,273.76 584.92,275.56 582.39,277.33 579.72,279.05 576.91,280.72 573.96,282.35 570.88,283.93 567.67,285.45 564.33,286.92 560.87,288.33 557.3,289.68 553.61,290.97 549.82,292.19 545.92,293.35 541.93,294.43 537.85,295.45 533.68,296.38 529.44,297.25 525.12,298.04 520.74,298.74 516.3,299.37 511.81,299.92 507.28,300.38 502.71,300.76 498.11,301.06 493.48,301.27 488.85,301.4 484.2,301.45 479.55,301.4 474.92,301.27 470.29,301.06 465.69,300.76 461.12,300.38 456.59,299.92 452.1,299.37 447.66,298.74 443.28,298.04 438.96,297.25 434.72,296.38 430.55,295.45 426.47,294.43 422.48,293.35 418.58,292.19 414.79,290.97 411.1,289.68 407.53,288.33 404.07,286.92 400.73,285.45 397.52,283.93 394.44,282.35 391.49,280.72 388.68,279.05 386.01,277.33 383.48,275.56 381.1,273.76 378.87,271.93 376.78,270.06 374.85,268.16 373.07,266.24 371.44,264.29 369.97,262.31 368.65,260.33 367.49,258.32 366.49,256.3 365.64,254.28 364.95,252.24 364.41,250.2 364.03,248.17 363.8,246.13 363.72,244.09 363.72,272.09 363.8,274.13 364.03,276.17 364.41,278.2 364.95,280.24 365.64,282.28 366.49,284.3 367.49,286.32 368.65,288.33 369.97,290.31 371.44,292.29 373.07,294.24 374.85,296.16 376.78,298.06 378.87,299.93 381.1,301.76 383.48,303.56 386.01,305.33 388.68,307.05 391.49,308.72 394.44,310.35 397.52,311.93 400.73,313.45 404.07,314.92 407.53,316.33 411.1,317.68 414.79,318.97 418.58,320.19 422.48,321.35 426.47,322.43 430.55,323.45 434.72,324.38 438.96,325.25 443.28,326.04 447.66,326.74 452.1,327.37 456.59,327.92 461.12,328.38 465.69,328.76 470.29,329.06 474.92,329.27 479.55,329.4 484.2,329.45 488.85,329.4 493.48,329.27 498.11,329.06 502.71,328.76 507.28,328.38 511.81,327.92 516.3,327.37 520.74,326.74 525.12,326.04 529.44,325.25 533.68,324.38 537.85,323.45 541.93,322.43 545.92,321.35 549.82,320.19 553.61,318.97 557.3,317.68 560.87,316.33 564.33,314.92 567.67,313.45 570.88,311.93 573.96,310.35 576.91,308.72 579.72,307.05 582.39,305.33 584.92,303.56 587.3,301.76 589.53,299.93 591.62,298.06 593.55,296.16 595.33,294.24 596.96,292.29 598.43,290.31 599.75,288.33 600.91,286.32 601.91,284.3 602.76,282.28 603.45,280.24 603.99,278.2 604.37,276.17 604.6,274.13 604.68,272.09" fill="url(#sideg)"/>
<polygon points="484.2,239 484.2,186.74 488.1,186.77 492.01,186.86 495.9,187.01 499.78,187.22 503.65,187.49 507.5,187.82 511.32,188.21 515.12,188.66 518.9,189.17 522.63,189.74 526.33,190.36 529.99,191.05 533.61,191.79 537.18,192.58" fill="#9E3A38" stroke="#9E3A38" stroke-width="0.4"/>
<polygon points="484.2,239 537.18,192.58 540.74,193.45 544.25,194.37 547.7,195.35 551.08,196.39 554.4,197.48 557.64,198.63 560.8,199.83 563.89,201.08 566.89,202.38 569.8,203.74 572.62,205.14 575.35,206.59 577.98,208.09 580.5,209.63 582.92,211.22 585.23,212.85 587.43,214.52 589.51,216.24 591.47,217.99 593.31,219.77 595.02,221.59 596.6,223.45 598.05,225.33" fill="#A9403D" stroke="#A9403D" stroke-width="0.4"/>
<polygon points="484.2,239 598.05,225.33 599.35,227.23 600.52,229.16 601.55,231.11 602.44,233.09 603.18,235.09 603.78,237.1 604.22,239.13 604.52,241.17 604.66,243.22 604.65,245.28 604.48,247.34 604.16,249.41 603.67,251.47 603.03,253.54 602.23,255.59 601.27,257.64 600.14,259.68 598.86,261.7 597.42,263.7 595.81,265.68 594.05,267.64 592.13,269.57 590.06,271.47 587.83,273.34 585.45,275.18 582.92,276.97 580.24,278.72 577.42,280.43 574.45,282.08 571.35,283.69 568.12,285.24 564.75,286.74 561.26,288.18 557.65,289.55 553.93,290.86 550.09,292.11 546.15,293.28" fill="#B54643" stroke="#B54643" stroke-width="0.4"/>
<polygon points="484.2,239 546.15,293.28 542.15,294.37 538.05,295.4 533.87,296.34 529.62,297.21 525.29,298.01 520.89,298.72 516.43,299.35 511.93,299.91 507.37,300.37 502.78,300.76 498.16,301.06 493.52,301.27 488.86,301.4 484.2,301.45 479.54,301.4 474.88,301.27 470.24,301.06 465.62,300.76 461.03,300.37 456.47,299.91 451.97,299.35 447.51,298.72 443.11,298.01 438.78,297.21 434.53,296.34 430.35,295.4 426.25,294.37 422.25,293.28" fill="#BF4E4B" stroke="#BF4E4B" stroke-width="0.4"/>
<polygon points="484.2,239 422.25,293.28 418.31,292.11 414.47,290.86 410.75,289.55 407.14,288.18 403.65,286.74 400.28,285.24 397.05,283.69 393.95,282.08 390.98,280.43 388.16,278.72 385.48,276.97 382.95,275.18 380.57,273.34 378.34,271.47 376.27,269.57 374.35,267.64 372.59,265.68 370.98,263.7 369.54,261.7 368.26,259.68 367.13,257.64 366.17,255.59 365.37,253.54 364.73,251.47 364.24,249.41 363.92,247.34 363.75,245.28 363.74,243.22 363.88,241.17 364.18,239.13 364.62,237.1 365.22,235.09 365.96,233.09 366.85,231.11 367.88,229.16 369.05,227.23 370.35,225.33" fill="#D28887" stroke="#D28887" stroke-width="0.4"/>
<polygon points="484.2,239 370.35,225.33 371.8,223.45 373.38,221.59 375.09,219.77 376.93,217.99 378.89,216.24 380.97,214.52 383.17,212.85 385.48,211.22 387.9,209.63 390.42,208.09 393.05,206.59 395.78,205.14 398.6,203.74 401.51,202.38 404.51,201.08 407.6,199.83 410.76,198.63 414,197.48 417.32,196.39 420.7,195.35 424.15,194.37 427.66,193.45 431.22,192.58" fill="#E1ACAB" stroke="#E1ACAB" stroke-width="0.4"/>
<polygon points="484.2,239 431.22,192.58 434.79,191.79 438.41,191.05 442.07,190.36 445.77,189.74 449.5,189.17 453.28,188.66 457.08,188.21 460.9,187.82 464.75,187.49 468.62,187.22 472.5,187.01 476.39,186.86 480.3,186.77 484.2,186.74" fill="#EFD0CF" stroke="#EFD0CF" stroke-width="0.4"/>
<text x="491.2" y="203.5" textLength="18" lengthAdjust="spacingAndGlyphs" font-family='"Liberation Serif", serif' font-size="12" font-weight="bold" font-style="normal" fill="#B9C6DA">8%</text>
<text x="541.45" y="218.5" textLength="23.5" lengthAdjust="spacingAndGlyphs" font-family='"Liberation Serif", serif' font-size="12" font-weight="bold" font-style="normal" fill="#D2D6E0">13%</text>
<text x="561.95" y="258" textLength="24.5" lengthAdjust="spacingAndGlyphs" font-family='"Liberation Serif", serif' font-size="12" font-weight="bold" font-style="normal" fill="#D6DAE3">21%</text>
<text x="492.95" y="282.5" textLength="24.5" lengthAdjust="spacingAndGlyphs" font-family='"Liberation Serif", serif' font-size="12" font-weight="bold" font-style="normal" fill="#CDD5E4">16%</text>
<text x="406.85" y="262.8" textLength="24.5" lengthAdjust="spacingAndGlyphs" font-family='"Liberation Serif", serif' font-size="12" font-weight="bold" font-style="normal" fill="#8C98A6">21%</text>
<text x="396.6" y="217.8" textLength="23" lengthAdjust="spacingAndGlyphs" font-family='"Liberation Serif", serif' font-size="12" font-weight="bold" font-style="normal" fill="#7F8C94">13%</text>
<text x="454.25" y="203.2" textLength="18.5" lengthAdjust="spacingAndGlyphs" font-family='"Liberation Serif", serif' font-size="12" font-weight="bold" font-style="normal" fill="#586E6C">8%</text>
<rect x="385.8" y="356.4" width="7" height="7" fill="#9E3A38" stroke="#B5403D" stroke-width="0.9"/>
<text x="394.2" y="363.4" textLength="23.5" lengthAdjust="spacingAndGlyphs" font-family='"Liberation Serif", serif' font-size="11" font-weight="bold" font-style="normal" fill="#1A1A1A">Site</text>
<rect x="496" y="356.4" width="7" height="7" fill="#A9403D" stroke="#B5403D" stroke-width="0.9"/>
<text x="504.4" y="363.4" textLength="67" lengthAdjust="spacingAndGlyphs" font-family='"Liberation Serif", serif' font-size="11" font-weight="bold" font-style="normal" fill="#1A1A1A">Decorations</text>
<rect x="385.8" y="369.6" width="7" height="7" fill="#B54643" stroke="#B5403D" stroke-width="0.9"/>
<text x="394.2" y="376.6" textLength="49" lengthAdjust="spacingAndGlyphs" font-family='"Liberation Serif", serif' font-size="11" font-weight="bold" font-style="normal" fill="#1A1A1A">Publicity</text>
<rect x="496" y="369.6" width="7" height="7" fill="#BF4E4B" stroke="#B5403D" stroke-width="0.9"/>
<text x="504.4" y="376.6" textLength="80" lengthAdjust="spacingAndGlyphs" font-family='"Liberation Serif", serif' font-size="11" font-weight="bold" font-style="normal" fill="#1A1A1A">Miscellaneous</text>
<rect x="385.8" y="382.2" width="7" height="7" fill="#D28887" stroke="#B5403D" stroke-width="0.9"/>
<text x="394.2" y="389.2" textLength="79" lengthAdjust="spacingAndGlyphs" font-family='"Liberation Serif", serif' font-size="11" font-weight="bold" font-style="normal" fill="#1A1A1A">Refreshments</text>
<rect x="496" y="382.2" width="7" height="7" fill="#E1ACAB" stroke="#B5403D" stroke-width="0.9"/>
<text x="504.4" y="389.2" textLength="47.5" lengthAdjust="spacingAndGlyphs" font-family='"Liberation Serif", serif' font-size="11" font-weight="bold" font-style="normal" fill="#1A1A1A">Program</text>
<rect x="385.8" y="395.2" width="7" height="7" fill="#EFD0CF" stroke="#B5403D" stroke-width="0.9"/>
<text x="394.2" y="402.2" textLength="34" lengthAdjust="spacingAndGlyphs" font-family='"Liberation Serif", serif' font-size="11" font-weight="bold" font-style="normal" fill="#1A1A1A">Prizes</text>
</g>
<g id="bar-panel">
<rect x="334.5" y="449.2" width="301.5" height="17.8" fill="#7694CE"/>
<rect x="334.5" y="467" width="301.5" height="375" fill="#EAEAEA"/>
<text x="338.5" y="463.3" textLength="130.5" lengthAdjust="spacingAndGlyphs" font-family='"Liberation Sans", sans-serif' font-size="12.5" font-weight="normal" font-style="normal" fill="#E4EBF8">Estimated vs. Actual</text>
<defs><linearGradient id="wallg" x1="0" y1="0" x2="1" y2="0"><stop offset="0" stop-color="#A6A6A6"/><stop offset="0.8" stop-color="#B0B0B0"/><stop offset="1" stop-color="#CCCCCC"/></linearGradient></defs>
<polygon points="410.2,493.7 600.5,503 594.6,726 413.3,705.6" fill="#F0F0F0"/>
<polygon points="401.8,496.3 410.2,493.7 413.3,705.6 407.2,707.9" fill="url(#wallg)"/>
<polygon points="407.2,707.9 413.3,705.6 594.6,726 588.6,734.8" fill="#C4C4C4"/>
<line x1="410.2" y1="493.7" x2="600.5" y2="503" stroke="#BBBBBB" stroke-width="1.4"/>
<line x1="410.2" y1="494.9" x2="600.5" y2="504.2" stroke="#F7F7F7" stroke-width="0.8"/>
<line x1="397.4" y1="496.8" x2="401.8" y2="496.3" stroke="#A0A0A0" stroke-width="1"/>
<line x1="401.8" y1="496.3" x2="410.2" y2="493.7" stroke="#969696" stroke-width="0.8"/>
<line x1="410.59" y1="520.7" x2="599.72" y2="532.6" stroke="#BBBBBB" stroke-width="1.4"/>
<line x1="410.59" y1="521.9" x2="599.72" y2="533.8" stroke="#F7F7F7" stroke-width="0.8"/>
<line x1="398.09" y1="523.9" x2="402.49" y2="523.4" stroke="#A0A0A0" stroke-width="1"/>
<line x1="402.49" y1="523.4" x2="410.59" y2="520.7" stroke="#969696" stroke-width="0.8"/>
<line x1="410.99" y1="547.7" x2="598.94" y2="561.9" stroke="#BBBBBB" stroke-width="1.4"/>
<line x1="410.99" y1="548.9" x2="598.94" y2="563.1" stroke="#F7F7F7" stroke-width="0.8"/>
<line x1="398.78" y1="550.8" x2="403.18" y2="550.3" stroke="#A0A0A0" stroke-width="1"/>
<line x1="403.18" y1="550.3" x2="410.99" y2="547.7" stroke="#969696" stroke-width="0.8"/>
<line x1="411.38" y1="574.6" x2="598.2" y2="590" stroke="#BBBBBB" stroke-width="1.4"/>
<line x1="411.38" y1="575.8" x2="598.2" y2="591.2" stroke="#F7F7F7" stroke-width="0.8"/>
<line x1="399.46" y1="577.5" x2="403.86" y2="577" stroke="#A0A0A0" stroke-width="1"/>
<line x1="403.86" y1="577" x2="411.38" y2="574.6" stroke="#969696" stroke-width="0.8"/>
<line x1="411.79" y1="602.4" x2="597.45" y2="618.4" stroke="#BBBBBB" stroke-width="1.4"/>
<line x1="411.79" y1="603.6" x2="597.45" y2="619.6" stroke="#F7F7F7" stroke-width="0.8"/>
<line x1="400.17" y1="605.5" x2="404.57" y2="605" stroke="#A0A0A0" stroke-width="1"/>
<line x1="404.57" y1="605" x2="411.79" y2="602.4" stroke="#969696" stroke-width="0.8"/>
<line x1="412.18" y1="629.2" x2="596.72" y2="646" stroke="#BBBBBB" stroke-width="1.4"/>
<line x1="412.18" y1="630.4" x2="596.72" y2="647.2" stroke="#F7F7F7" stroke-width="0.8"/>
<line x1="400.86" y1="632.2" x2="405.26" y2="631.7" stroke="#A0A0A0" stroke-width="1"/>
<line x1="405.26" y1="631.7" x2="412.18" y2="629.2" stroke="#969696" stroke-width="0.8"/>
<line x1="412.56" y1="655.2" x2="596.01" y2="672.7" stroke="#BBBBBB" stroke-width="1.4"/>
<line x1="412.56" y1="656.4" x2="596.01" y2="673.9" stroke="#F7F7F7" stroke-width="0.8"/>
<line x1="401.52" y1="658.1" x2="405.92" y2="657.6" stroke="#A0A0A0" stroke-width="1"/>
<line x1="405.92" y1="657.6" x2="412.56" y2="655.2" stroke="#969696" stroke-width="0.8"/>
<line x1="412.93" y1="680.4" x2="595.31" y2="699.1" stroke="#BBBBBB" stroke-width="1.4"/>
<line x1="412.93" y1="681.6" x2="595.31" y2="700.3" stroke="#F7F7F7" stroke-width="0.8"/>
<line x1="402.16" y1="683.2" x2="406.56" y2="682.7" stroke="#A0A0A0" stroke-width="1"/>
<line x1="406.56" y1="682.7" x2="412.93" y2="680.4" stroke="#969696" stroke-width="0.8"/>
<line x1="402.8" y1="708.4" x2="407.2" y2="707.9" stroke="#A0A0A0" stroke-width="1"/>
<line x1="407.2" y1="707.9" x2="413.3" y2="705.6" stroke="#969696" stroke-width="0.8"/>
<line x1="600.5" y1="503" x2="594.6" y2="726" stroke="#DADADA" stroke-width="0.8"/>
<text x="345" y="499" textLength="44.5" lengthAdjust="spacingAndGlyphs" font-family='"Liberation Serif", serif' font-size="10.3" font-weight="bold" font-style="normal" fill="#111111">$800.00</text>
<text x="345.5" y="526.5" textLength="44.3" lengthAdjust="spacingAndGlyphs" font-family='"Liberation Serif", serif' font-size="10.3" font-weight="bold" font-style="normal" fill="#111111">$700.00</text>
<text x="346" y="554" textLength="44.2" lengthAdjust="spacingAndGlyphs" font-family='"Liberation Serif", serif' font-size="10.3" font-weight="bold" font-style="normal" fill="#111111">$600.00</text>
<text x="346.5" y="581" textLength="44.1" lengthAdjust="spacingAndGlyphs" font-family='"Liberation Serif", serif' font-size="10.3" font-weight="bold" font-style="normal" fill="#111111">$500.00</text>
<text x="348.3" y="608.2" textLength="42.8" lengthAdjust="spacingAndGlyphs" font-family='"Liberation Serif", serif' font-size="10.3" font-weight="bold" font-style="normal" fill="#111111">$400.00</text>
<text x="348.8" y="635.6" textLength="43.4" lengthAdjust="spacingAndGlyphs" font-family='"Liberation Serif", serif' font-size="10.3" font-weight="bold" font-style="normal" fill="#111111">$300.00</text>
<text x="349.4" y="661.2" textLength="43.9" lengthAdjust="spacingAndGlyphs" font-family='"Liberation Serif", serif' font-size="10.3" font-weight="bold" font-style="normal" fill="#111111">$200.00</text>
<text x="350.4" y="685.8" textLength="43.8" lengthAdjust="spacingAndGlyphs" font-family='"Liberation Serif", serif' font-size="10.3" font-weight="bold" font-style="normal" fill="#111111">$100.00</text>
<text x="364.8" y="711.3" textLength="29.8" lengthAdjust="spacingAndGlyphs" font-family='"Liberation Serif", serif' font-size="10.3" font-weight="bold" font-style="normal" fill="#111111">$0.00</text>
<polygon points="412.3,577.2 420.49,577.6 420.49,708.4 412.3,707.6" fill="#4A7FC1"/>
<polygon points="420.49,577.6 422.8,576.6 422.8,707.8 420.49,708.4" fill="#2F5F9B"/>
<polygon points="412.3,577.2 414.61,576 422.8,576.6 420.49,577.6" fill="#3C6DAA"/>
<polygon points="421,631.2 429.27,631.6 429.27,710.1 421,709.3" fill="#C5504D"/>
<polygon points="429.27,631.6 431.6,630.6 431.6,709.5 429.27,710.1" fill="#8C2F2D"/>
<polygon points="421,631.2 423.33,630 431.6,630.6 429.27,631.6" fill="#A33F3C"/>
<polygon points="438.8,659.2 444.5,659.6 444.5,711 438.8,710.2" fill="#4A7FC1"/>
<polygon points="444.5,659.6 446.3,658.6 446.3,710.4 444.5,711" fill="#2F5F9B"/>
<polygon points="438.8,659.2 440.6,658 446.3,658.6 444.5,659.6" fill="#3C6DAA"/>
<polygon points="444.8,580 453.77,580.4 453.77,712.8 444.8,712" fill="#C5504D"/>
<polygon points="453.77,580.4 456.3,579.4 456.3,712.2 453.77,712.8" fill="#8C2F2D"/>
<polygon points="444.8,580 447.33,578.8 456.3,579.4 453.77,580.4" fill="#A33F3C"/>
<polygon points="463,582.2 469.79,582.6 469.79,714.8 463,714" fill="#4A7FC1"/>
<polygon points="469.79,582.6 471.7,581.6 471.7,714.2 469.79,714.8" fill="#2F5F9B"/>
<polygon points="463,582.2 464.91,581 471.7,581.6 469.79,582.6" fill="#3C6DAA"/>
<polygon points="470.2,498.8 478.94,499.2 478.94,716.8 470.2,716" fill="#C5504D"/>
<polygon points="478.94,499.2 481.4,498.2 481.4,716.2 478.94,716.8" fill="#8C2F2D"/>
<polygon points="470.2,498.8 472.66,497.6 481.4,498.2 478.94,499.2" fill="#A33F3C"/>
<polygon points="489.5,583.2 495.7,583.6 495.7,717.8 489.5,717" fill="#4A7FC1"/>
<polygon points="495.7,583.6 497.5,582.6 497.5,717.2 495.7,717.8" fill="#2F5F9B"/>
<polygon points="489.5,583.2 491.3,582 497.5,582.6 495.7,583.6" fill="#3C6DAA"/>
<polygon points="496.9,556.6 505.56,557 505.56,719.4 496.9,718.6" fill="#C5504D"/>
<polygon points="505.56,557 508,556 508,718.8 505.56,719.4" fill="#8C2F2D"/>
<polygon points="496.9,556.6 499.34,555.4 508,556 505.56,557" fill="#A33F3C"/>
<polygon points="515.8,557.4 522.66,557.8 522.66,720.8 515.8,720" fill="#4A7FC1"/>
<polygon points="522.66,557.8 524.6,556.8 524.6,720.2 522.66,720.8" fill="#2F5F9B"/>
<polygon points="515.8,557.4 517.74,556.2 524.6,556.8 522.66,557.8" fill="#3C6DAA"/>
<polygon points="523.8,501 532.85,501.4 532.85,722.6 523.8,721.8" fill="#C5504D"/>
<polygon points="532.85,501.4 535.4,500.4 535.4,722 532.85,722.6" fill="#8C2F2D"/>
<polygon points="523.8,501 526.35,499.8 535.4,500.4 532.85,501.4" fill="#A33F3C"/>
<polygon points="542.6,643.8 549.31,644.2 549.31,724.8 542.6,724" fill="#4A7FC1"/>
<polygon points="549.31,644.2 551.2,643.2 551.2,724.2 549.31,724.8" fill="#2F5F9B"/>
<polygon points="542.6,643.8 544.49,642.6 551.2,643.2 549.31,644.2" fill="#3C6DAA"/>
<polygon points="550.8,589.2 558.99,589.6 558.99,726.6 550.8,725.8" fill="#C5504D"/>
<polygon points="558.99,589.6 561.3,588.6 561.3,726 558.99,726.6" fill="#8C2F2D"/>
<polygon points="550.8,589.2 553.11,588 561.3,588.6 558.99,589.6" fill="#A33F3C"/>
<polygon points="570.2,672.5 576.83,672.9 576.83,728.4 570.2,727.6" fill="#4A7FC1"/>
<polygon points="576.83,672.9 578.7,671.9 578.7,727.8 576.83,728.4" fill="#2F5F9B"/>
<polygon points="570.2,672.5 572.07,671.3 578.7,671.9 576.83,672.9" fill="#3C6DAA"/>
<polygon points="578.4,646.5 586.82,646.9 586.82,730 578.4,729.2" fill="#C5504D"/>
<polygon points="586.82,646.9 589.2,645.9 589.2,729.4 586.82,730" fill="#8C2F2D"/>
<polygon points="578.4,646.5 580.78,645.3 589.2,645.9 586.82,646.9" fill="#A33F3C"/>
<g transform="translate(417.4 720.4) rotate(-43)">
<text x="-24.5" y="7" textLength="24.5" lengthAdjust="spacingAndGlyphs" font-family='"Liberation Sans", sans-serif' font-size="10.8" font-weight="normal" font-style="normal" fill="#949494">Site</text>
</g>
<g transform="translate(442.8 724.2) rotate(-43)">
<text x="-71" y="7" textLength="71" lengthAdjust="spacingAndGlyphs" font-family='"Liberation Sans", sans-serif' font-size="10.8" font-weight="normal" font-style="normal" fill="#949494">Decorations</text>
</g>
<g transform="translate(468 728) rotate(-43)">
<text x="-51.5" y="7" textLength="51.5" lengthAdjust="spacingAndGlyphs" font-family='"Liberation Sans", sans-serif' font-size="10.8" font-weight="normal" font-style="normal" fill="#949494">Publicity</text>
</g>
<g transform="translate(492.1 731.2) rotate(-43)">
<text x="-81.5" y="7" textLength="81.5" lengthAdjust="spacingAndGlyphs" font-family='"Liberation Sans", sans-serif' font-size="10.8" font-weight="normal" font-style="normal" fill="#949494">Miscellaneous</text>
</g>
<g transform="translate(518.6 734) rotate(-43)">
<text x="-80" y="7" textLength="80" lengthAdjust="spacingAndGlyphs" font-family='"Liberation Sans", sans-serif' font-size="10.8" font-weight="normal" font-style="normal" fill="#949494">Refreshments</text>
</g>
<g transform="translate(545.8 737.8) rotate(-43)">
<text x="-50.5" y="7" textLength="50.5" lengthAdjust="spacingAndGlyphs" font-family='"Liberation Sans", sans-serif' font-size="10.8" font-weight="normal" font-style="normal" fill="#949494">Program</text>
</g>
<g transform="translate(572.2 741.6) rotate(-43)">
<text x="-36.5" y="7" textLength="36.5" lengthAdjust="spacingAndGlyphs" font-family='"Liberation Sans", sans-serif' font-size="10.8" font-weight="normal" font-style="normal" fill="#949494">Prizes</text>
</g>
<rect x="413.3" y="820.4" width="6.3" height="6.3" fill="#4A7FC1"/>
<text x="421.2" y="827" textLength="57.6" lengthAdjust="spacingAndGlyphs" font-family='"Liberation Serif", serif' font-size="11" font-weight="bold" font-style="normal" fill="#1A1A1A">Estimated</text>
<rect x="513.6" y="820.4" width="6.3" height="6.3" fill="#C5504D"/>
<text x="522.2" y="827" textLength="34.5" lengthAdjust="spacingAndGlyphs" font-family='"Liberation Serif", serif' font-size="11" font-weight="bold" font-style="normal" fill="#1A1A1A">Actual</text>
</g>
<text x="429" y="894.6" textLength="198.6" lengthAdjust="spacingAndGlyphs" font-family='"Liberation Serif", serif' font-size="9.6" font-weight="bold" font-style="normal" fill="#000000">Made in Office 2007 for office2007.com</text>
</svg>
</body></html>
